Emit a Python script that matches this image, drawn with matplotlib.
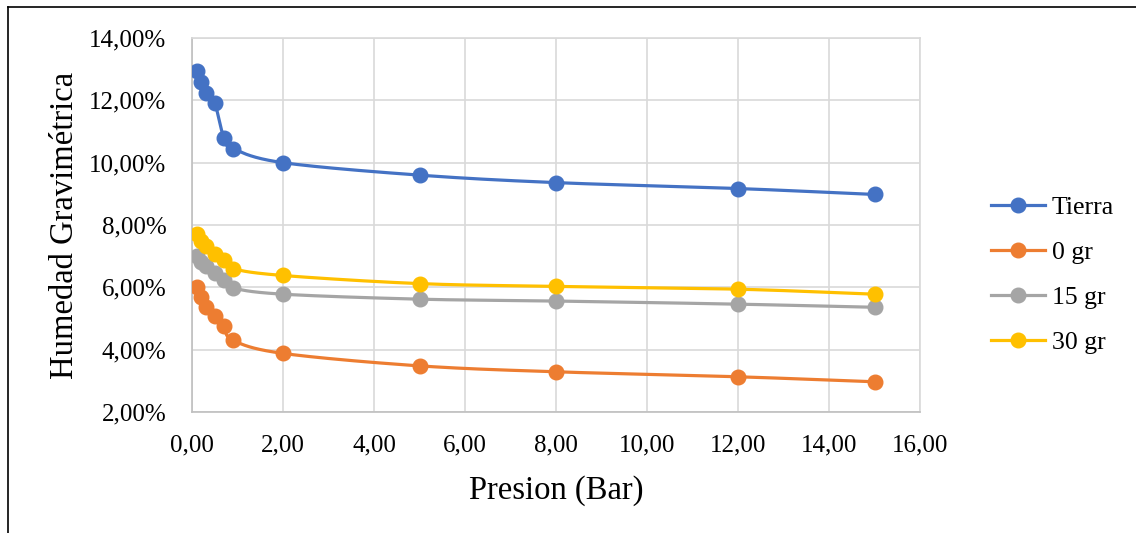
import numpy as np
import matplotlib
matplotlib.use("Agg")
import matplotlib.pyplot as plt
from matplotlib.ticker import FuncFormatter, MultipleLocator
from matplotlib.lines import Line2D

plt.rcParams['font.family'] = ['Liberation Serif', 'DejaVu Serif']

presion = [0.1, 0.2, 0.3, 0.5, 0.7, 0.9, 2, 5, 8, 12, 15]
tierra = [12.95, 12.60, 12.25, 11.90, 10.80, 10.45, 10.00, 9.60, 9.36, 9.17, 8.98]
gr0 = [6.00, 5.68, 5.38, 5.08, 4.76, 4.30, 3.88, 3.48, 3.29, 3.13, 2.97]
gr15 = [7.00, 6.82, 6.68, 6.45, 6.24, 5.98, 5.78, 5.62, 5.56, 5.46, 5.36]
gr30 = [7.70, 7.48, 7.32, 7.06, 6.88, 6.60, 6.38, 6.12, 6.03, 5.94, 5.78]

series_names = ["Tierra", "0 gr", "15 gr", "30 gr"]
series_values = [tierra, gr0, gr15, gr30]
colors = ["#4472C4", "#ED7D31", "#A5A5A5", "#FFC000"]

fig = plt.figure(figsize=(11.36, 5.33), dpi=100)
W, H = 1136, 533
ax = fig.add_axes([192 / W, 1 - 412 / H, (920 - 192) / W, (412 - 38) / H])

xlim = (0, 16)
ylim = (2, 14)


def smooth(x, y, n=30):
    # Catmull-Rom spline through the points, computed in axis-normalised space
    x = np.asarray(x, float)
    y = np.asarray(y, float)
    xs = (x - xlim[0]) / (xlim[1] - xlim[0]) * 728
    ys = (y - ylim[0]) / (ylim[1] - ylim[0]) * 374
    P = np.column_stack([xs, ys])
    P = np.vstack([P[0] - (P[1] - P[0]), P, P[-1] + (P[-1] - P[-2])])
    out = []
    for i in range(1, len(P) - 2):
        p0, p1, p2, p3 = P[i - 1], P[i], P[i + 1], P[i + 2]
        t = np.linspace(0, 1, n)[:, None]
        seg = 0.5 * ((2 * p1) + (-p0 + p2) * t + (2 * p0 - 5 * p1 + 4 * p2 - p3) * t ** 2
                     + (-p0 + 3 * p1 - 3 * p2 + p3) * t ** 3)
        out.append(seg)
    out = np.vstack(out)
    return (out[:, 0] / 728 * (xlim[1] - xlim[0]) + xlim[0],
            out[:, 1] / 374 * (ylim[1] - ylim[0]) + ylim[0])


for name, vals, c in zip(series_names, series_values, colors):
    sx, sy = smooth(presion, vals)
    ax.plot(sx, sy, color=c, lw=2.3, zorder=3, solid_capstyle='round')
    ax.plot(presion, vals, 'o', color=c, ms=10.5, zorder=4)

ax.set_xlim(*xlim)
ax.set_ylim(*ylim)
ax.xaxis.set_major_locator(MultipleLocator(2))
ax.yaxis.set_major_locator(MultipleLocator(2))
ax.xaxis.set_major_formatter(FuncFormatter(lambda v, p: f"{v:.2f}".replace('.', ',')))
ax.yaxis.set_major_formatter(FuncFormatter(lambda v, p: f"{v:.2f}%".replace('.', ',')))
ax.grid(True, color="#D9D9D9", lw=1.2)
ax.set_axisbelow(True)
for s in ax.spines.values():
    s.set_color("#D9D9D9")
    s.set_linewidth(1.2)
ax.spines['left'].set_color("#BFBFBF")
ax.spines['bottom'].set_color("#BFBFBF")
ax.tick_params(length=0, labelsize=18, colors='black')
ax.tick_params(axis='y', pad=18.5)
ax.tick_params(axis='x', pad=16)

ax.set_xlabel("Presion (Bar)", fontsize=23.5, labelpad=14)
ax.set_ylabel("Humedad Gravimétrica", fontsize=23.5, labelpad=6.5)

handles = [Line2D([], [], color=c, lw=2.3, marker='o', ms=10.5) for c in colors]
fig.legend(handles, series_names, loc='center left', bbox_to_anchor=(968 / W, 1 - 275 / H),
           frameon=False, fontsize=18.5, handlelength=2.1, labelspacing=0.86, handletextpad=0.25)

# outer chart border (top and left edges)
fig.add_artist(Line2D([8 / W, 1], [1 - 7 / H, 1 - 7 / H], color='black', lw=1.2))
fig.add_artist(Line2D([8 / W, 8 / W], [0, 1 - 7 / H], color='black', lw=1.2))

fig.savefig("out.png", dpi=100)
